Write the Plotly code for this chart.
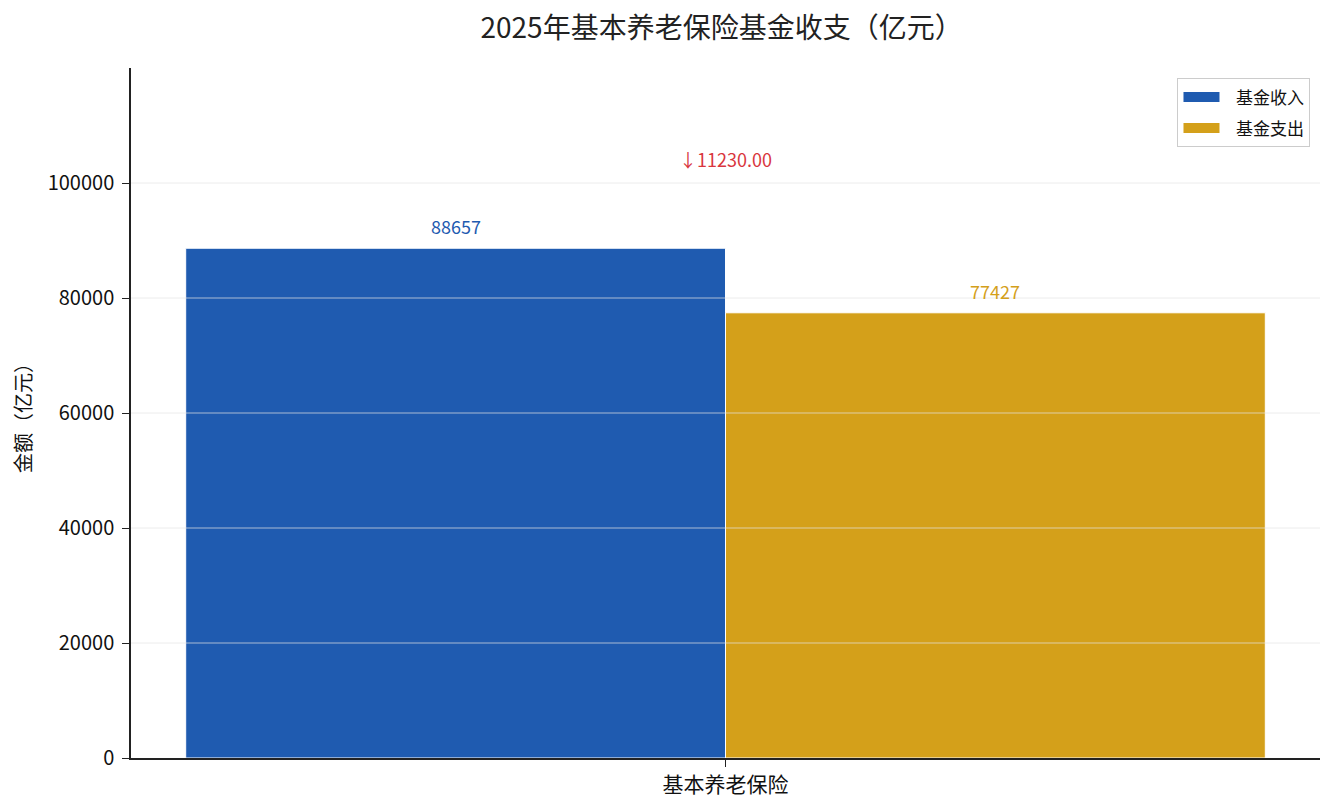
import plotly.graph_objects as go

categories = ["基本养老保险"]
series_names = ["基金收入", "基金支出"]
income = [88657]
expense = [77427]
diff_label = "↓11230.00"
y_ticks = [0, 20000, 40000, 60000, 80000, 100000]
colors = ["#1f5bb0", "#d4a01a"]

font = "Noto Sans CJK SC, Noto Sans, sans-serif"

fig = go.Figure()
for name, vals, c in zip(series_names, [income, expense], colors):
    fig.add_trace(go.Bar(
        x=categories, y=vals, name=name, marker_color=c,
        marker_line_width=1, marker_line_color="white", showlegend=False,
    ))
    # legend entry drawn as a wide rectangle
    fig.add_trace(go.Scatter(x=[None], y=[None], mode="lines",
                             name="\u00a0\u00a0\u00a0" + name, legendgroup=name,
                             line=dict(color=c, width=12)))

fig.update_layout(barmode="group", bargap=0.092, bargroupgap=0)

# value labels
offsets = [-0.227, 0.227]
for off, vals, c in zip(offsets, [income, expense], colors):
    fig.add_annotation(x=off, xref="x", y=vals[0], yref="y", text=str(vals[0]),
                       showarrow=False, yshift=22, font=dict(size=18, color=c, family=font))

fig.add_annotation(x=0, xref="x", y=max(income[0], expense[0]) * 1.175, yref="y",
                   text=diff_label, showarrow=False,
                   font=dict(size=18, color="#d9363e", family=font))

# grid lines drawn over the bars
for t in y_ticks[1:]:
    fig.add_shape(type="line", xref="paper", x0=0, x1=1, yref="y", y0=t, y1=t,
                  line=dict(color="rgba(228,228,228,0.7)", width=1), layer="above")

fig.update_layout(
    width=1319, height=794,
    paper_bgcolor="white", plot_bgcolor="white",
    font=dict(family=font, size=17, color="#111"),
    title=dict(text="2025年基本养老保险基金收支（亿元）", x=0.541, xanchor="center",
               y=0.974, yanchor="middle", font=dict(size=28, color="#222")),
    margin=dict(l=123, r=7, t=60, b=44),
    showlegend=True,
    legend=dict(x=0.992, y=0.985, xanchor="right", yanchor="top",
                bordercolor="#cccccc", borderwidth=1, bgcolor="white",
                font=dict(size=17), itemwidth=36, tracegroupgap=6),
    xaxis=dict(type="category", range=[-0.5, 0.5], showline=True, linecolor="#222", linewidth=1.5,
               ticks="outside", ticklen=7, tickcolor="#222", showgrid=False,
               automargin=False, tickfont=dict(size=21)),
    yaxis=dict(range=[0, 120000], tickvals=y_ticks, showline=True, linecolor="#222", linewidth=1.5,
               ticks="outside", ticklen=7, tickcolor="#222", showgrid=False,
               zeroline=False, tickformat="d", ticklabelstandoff=4,
               title=dict(text="金额（亿元）", font=dict(size=20), standoff=20),
               tickfont=dict(size=20)),
)

fig.write_html("out.html")
